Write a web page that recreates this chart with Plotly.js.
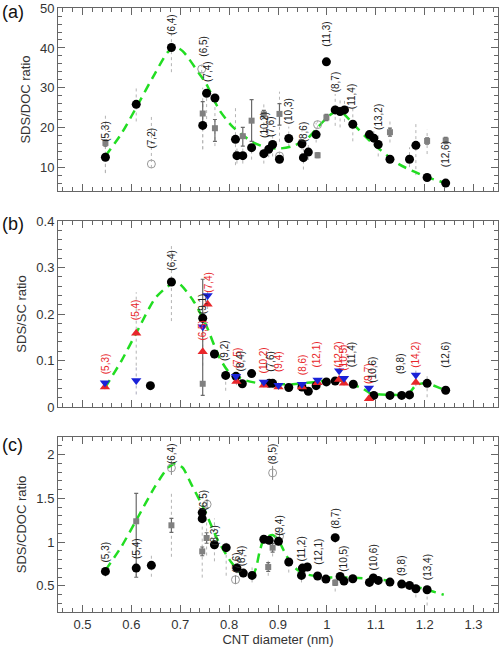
<!DOCTYPE html>
<html>
<head>
<meta charset="utf-8">
<script src="https://cdn.plot.ly/plotly-3.0.1.min.js"></script>
<style>html,body{margin:0;padding:0;background:#fff}#chart{width:501px;height:649px}</style>
</head>
<body>
<div id="chart"></div>
<script>
// ---------- Panel (a): SDS/DOC ratio ----------
const aBlackD = [0.547,0.610,0.682,0.746,0.754,0.771,0.813,0.816,0.828,0.846,0.871,0.881,0.889,0.903,0.922,0.949,0.952,0.962,0.978,0.999,1.017,1.027,1.036,1.053,1.087,1.096,1.105,1.129,1.169,1.182,1.205,1.243];
const aBlackV = [12.5,25.8,40.1,20.5,28.6,27.4,17.0,12.9,12.9,14.9,13.4,14.5,15.7,12.0,17.2,15.9,12.4,13.8,18.2,36.5,24.4,24.0,24.4,20.8,18.2,17.3,15.7,12.0,12.0,15.5,7.4,6.0];
const aBlackLo = [4,4.3,6.2,6,6.5,1.5,6.5,2,2,3,2.5,2,3,1,2,3,3,2,2,1,4,4,3,4.3,1.5,2,3,1,2,7.5,1,1];
const aBlackHi = [3,4.4,3.9,6,1,1.4,8.5,2,2,3,2,2,3,1,3,4,3,2,3,1,4,3,3,4.4,1.5,2,3,1,3,5.7,1,1];
const aSqD = [0.547,0.746,0.771,0.828,0.846,0.871,0.903,0.981,0.999,1.129,1.205,1.243];
const aSqV = [16.1,23.5,19.8,17.8,21.7,23.3,23.4,13.0,22.5,18.8,16.6,16.7];
const aSqLo = [0.8,3,3.3,2.5,5.2,1,2.8,0.6,0.8,1,0.8,0.8];
const aSqHi = [0.8,3,2.2,2.2,5.3,1,2.6,0.6,0.8,1,0.8,0.8];
const aSqDotLo = [7.5,9,4.5,0,0,4.3,7,0,0,2.6,3.3,0];
const aSqDotHi = [7.6,6.5,9,0,0,3.2,5.6,0,0,2.9,2.8,0];
const aOpenD = [0.641,0.744,0.903,0.981];
const aOpenV = [10.8,34.7,12.8,20.7];
const aOpenLo = [1,1,1,1];
const aOpenHi = [12,1,1,1];
const aFitD = [0.547,0.58,0.61,0.648,0.675,0.69,0.705,0.739,0.753,0.780,0.807,0.828,0.850,0.875,0.903,0.930,0.960,0.984,1.005,1.020,1.032,1.059,1.083,1.107,1.148,1.18,1.202,1.243];
const aFitV = [12.8,18.5,25,33.5,39,40.2,39.2,33.5,31.0,24.4,20.2,18.0,16.2,15.0,14.7,15.3,17.2,20.4,23.0,24.0,23.6,20.2,17.2,14.6,10.7,8.8,7.6,6.0];
const aLabD = [0.547,0.641,0.682,0.748,0.756,0.872,0.885,0.922,0.951,0.999,1.017,1.052,1.105,1.243];
const aLabV = [19,17.3,45.9,40.5,34.1,20.7,20.3,24.0,19.0,43.4,31.4,27.7,22.7,13.2];
const aLabT = ['(5,3)','(7,2)','(6,4)','(6,5)','(7,4)','(10,2)','(7,6)','(10,3)','(8,6)','(11,3)','(8,7)','(11,4)','(13,2)','(12,6)'];

// ---------- Panel (b): SDS/SC ratio ----------
const bBlackD = [0.639,0.682,0.746,0.770,0.793,0.814,0.827,0.846,0.882,0.889,0.922,0.949,0.962,0.978,0.999,1.017,1.054,1.096,1.129,1.153,1.169,1.205,1.243];
const bBlackV = [0.046,0.269,0.191,0.114,0.068,0.066,0.050,0.072,0.051,0.051,0.042,0.043,0.034,0.046,0.054,0.056,0.049,0.025,0.025,0.025,0.026,0.051,0.036];
const bBlackLo = [0.005,0.084,0.01,0.01,0.033,0.01,0.005,0.005,0.005,0.005,0.005,0.008,0.005,0.005,0.005,0.005,0.005,0.003,0.003,0.003,0.003,0.03,0.005];
const bBlackHi = [0.005,0.082,0.01,0.01,0.01,0.01,0.005,0.005,0.005,0.005,0.005,0.008,0.005,0.005,0.005,0.005,0.005,0.003,0.003,0.003,0.003,0.02,0.005];
const bBlueD = [0.546,0.610,0.746,0.756,0.814,0.871,0.901,0.949,0.981,1.025,1.035,1.086,1.182];
const bBlueV = [0.052,0.057,0.173,0.240,0.066,0.054,0.047,0.049,0.058,0.078,0.062,0.041,0.069];
const bBlueLo = [0.005,0.03,0.01,0.01,0.008,0.005,0.005,0.005,0.005,0.006,0.005,0.005,0.01];
const bBlueHi = [0.005,0.033,0.01,0.01,0.008,0.005,0.005,0.005,0.005,0.006,0.005,0.005,0.01];
const bRedD = [0.546,0.610,0.746,0.756,0.815,0.871,0.901,0.949,0.981,1.025,1.035,1.086,1.182];
const bRedV = [0.043,0.159,0.119,0.221,0.055,0.047,0.043,0.043,0.052,0.059,0.051,0.018,0.053];
const bRedLo = [0.005,0.07,0.03,0.01,0.008,0.005,0.005,0.005,0.005,0.005,0.005,0.005,0.008];
const bRedHi = [0.005,0.088,0.03,0.01,0.008,0.005,0.005,0.005,0.005,0.005,0.005,0.005,0.008];
const bSqD = [0.746];
const bSqV = [0.050];
const bSqLo = [0.025];
const bSqHi = [0.225];
const bFitD = [0.546,0.58,0.61,0.651,0.692,0.726,0.753,0.780,0.80,0.835,0.862,0.90,0.93,0.96,0.985,1.017,1.04,1.056,1.073,1.09,1.11,1.16,1.171,1.182,1.199,1.216,1.233,1.25];
const bFitV = [0.041,0.10,0.159,0.237,0.269,0.230,0.176,0.107,0.075,0.057,0.051,0.049,0.049,0.052,0.055,0.058,0.054,0.047,0.040,0.029,0.027,0.027,0.033,0.047,0.051,0.047,0.040,0.035];
const bLabD = [0.547,0.610,0.682,0.746,0.756,0.746,0.792,0.816,0.824,0.870,0.884,0.901,0.950,0.979,1.024,1.034,1.052,1.085,1.094,1.151,1.182,1.243];
const bLabV = [0.093,0.209,0.316,0.223,0.269,0.166,0.121,0.107,0.100,0.101,0.098,0.098,0.091,0.112,0.112,0.105,0.112,0.072,0.080,0.094,0.112,0.112];
const bLabT = ['(5,3)','(5,4)','(6,4)','(9,1)','(7,4)','(6,5)','(9,2)','(7,5)','(8,4)','(10,2)','(7,6)','(9,4)','(8,6)','(12,1)','(12,2)','(10,5)','(11,4)','(9,7)','(10,6)','(9,8)','(14,2)','(12,6)'];
const bLabRed = [1,1,0,0,1,1,0,1,0,1,0,1,1,1,1,1,0,1,0,0,1,0];

// ---------- Panel (c): SDS/CDOC ratio ----------
const cBlackD = [0.547,0.610,0.641,0.745,0.745,0.770,0.794,0.816,0.829,0.847,0.871,0.882,0.901,0.922,0.948,0.950,0.960,0.981,0.998,1.017,1.027,1.035,1.053,1.087,1.095,1.105,1.129,1.153,1.169,1.182,1.205];
const cBlackV = [0.664,0.702,0.733,1.336,1.267,0.969,0.935,0.702,0.645,0.618,1.031,1.019,1.008,0.771,0.618,0.702,0.714,0.611,0.576,1.050,0.607,0.553,0.580,0.538,0.588,0.561,0.542,0.519,0.504,0.466,0.454];
const cBlackLo = [0.06,0.1,0.13,0.05,0.05,0.19,0.32,0.06,0.05,0.08,0.05,0.05,0.05,0.12,0.08,0.05,0.05,0.04,0.04,0.06,0.04,0.04,0.04,0.04,0.05,0.04,0.05,0.04,0.04,0.1,0.18];
const cBlackHi = [0.06,0.1,0.14,0.05,0.05,0.3,0.07,0.06,0.05,0.1,0.05,0.05,0.05,0.05,0.08,0.05,0.05,0.04,0.04,0.06,0.04,0.04,0.04,0.04,0.05,0.04,0.05,0.04,0.04,0.05,0.05];
const cSqD = [0.610,0.682,0.745,0.754,0.880,0.889,1.017];
const cSqV = [1.237,1.191,0.893,1.046,0.714,0.935,0.534];
const cSqLo = [0.64,0.08,0.05,0.06,0.05,0.05,0.03];
const cSqHi = [0.32,0.08,0.05,0.06,0.05,0.05,0.03];
const cSqDotLo = [0,0.36,0.3,0.2,0.1,0.1,0.1];
const cSqDotHi = [0,0.36,0.3,0.2,0.1,0.1,0.05];
const cOpenD = [0.682,0.755,0.813,0.889,0.903];
const cOpenV = [1.847,1.431,0.569,1.79,1.065];
const cOpenLo = [0.08,0.05,0.05,0.08,0.05];
const cOpenHi = [0.08,0.05,0.05,0.08,0.05];
const cFitD = [0.547,0.58,0.61,0.648,0.675,0.690,0.705,0.722,0.750,0.777,0.804,0.824,0.840,0.848,0.855,0.862,0.870,0.880,0.890,0.900,0.912,0.926,0.940,0.955,0.988,1.056,1.124,1.171,1.205,1.239];
const cFitV = [0.676,0.95,1.248,1.63,1.85,1.897,1.85,1.668,1.363,1.019,0.771,0.645,0.605,0.615,0.70,0.88,1.02,1.065,1.078,1.03,0.90,0.76,0.68,0.635,0.600,0.592,0.561,0.504,0.454,0.397];
const cLabD = [0.547,0.610,0.682,0.747,0.770,0.814,0.826,0.889,0.903,0.949,0.981,1.017,1.035,1.095,1.153,1.205];
const cLabV = [0.885,0.924,2.01,1.477,1.076,0.771,0.847,2.01,1.19,0.924,0.885,1.267,0.809,0.828,0.733,0.714];
const cLabT = ['(5,3)','(5,4)','(6,4)','(6,5)','(8,3)','(7,6)','(8,4)','(8,5)','(9,4)','(11,2)','(12,1)','(8,7)','(10,5)','(10,6)','(9,8)','(13,4)'];

// ---------- helpers ----------
const FONT = 'Liberation Sans, Arial, sans-serif';
const GREEN = '#22dd22';
const RED = '#e8262a';
const BLUE = '#1a22d8';

function errLines(xs, ys, lo, hi, ax, color, dash) {
  const ex = [], ey = [];
  xs.forEach((x, i) => {
    if (!(lo[i] > 0 || hi[i] > 0)) return;
    ex.push(x, x, null);
    ey.push(ys[i] - lo[i], ys[i] + hi[i], null);
  });
  return {x: ex, y: ey, xaxis: ax[0], yaxis: ax[1], mode: 'lines', hoverinfo: 'skip',
    line: {color: color, width: 1, dash: dash}, showlegend: false};
}
function fit(xs, ys, ax, sm) {
  return {x: xs, y: ys, xaxis: ax[0], yaxis: ax[1], mode: 'lines', showlegend: false,
    line: {color: GREEN, width: 2.5, dash: '9px,6px', shape: 'spline', smoothing: sm}};
}
function pts(xs, ys, ax, marker, err) {
  const t = {x: xs, y: ys, xaxis: ax[0], yaxis: ax[1], mode: 'markers', marker: marker, showlegend: false};
  if (err) t.error_y = {type: 'data', symmetric: false, array: err[1], arrayminus: err[0],
    color: '#6a6a6a', thickness: 1.2, width: 2};
  return t;
}
const black = {color: '#000', size: 9, symbol: 'circle'};
const sq = {color: '#808080', size: 6, symbol: 'square'};
const openC = {color: '#9a9a9a', size: 8, symbol: 'circle-open', line: {width: 1, color: '#9a9a9a'}};
const blueT = {color: BLUE, size: 9, symbol: 'triangle-down'};
const redT = {color: RED, size: 9, symbol: 'triangle-up'};

const A = ['x3', 'y3'], B = ['x2', 'y2'], C = ['x', 'y'];
const DOT = '#b4b4b4';

const traces = [
  // panel a
  errLines(aBlackD, aBlackV, aBlackLo, aBlackHi, A, DOT, 'dot'),
  errLines(aSqD, aSqV, aSqDotLo, aSqDotHi, A, DOT, 'dot'),
  errLines(aOpenD, aOpenV, aOpenLo, aOpenHi, A, DOT, 'dot'),
  fit(aFitD, aFitV, A, 0.8),
  pts(aSqD, aSqV, A, sq, [aSqLo, aSqHi]),
  pts(aOpenD, aOpenV, A, openC),
  pts(aBlackD, aBlackV, A, black),
  // panel b
  errLines(bBlackD, bBlackV, bBlackLo, bBlackHi, B, DOT, 'dot'),
  errLines(bBlueD, bBlueV, bBlueLo, bBlueHi, B, '#aab', 'dot'),
  errLines(bRedD, bRedV, bRedLo, bRedHi, B, DOT, 'dot'),
  fit(bFitD, bFitV, B, 0.7),
  pts(bSqD, bSqV, B, sq, [bSqLo, bSqHi]),
  pts(bBlackD, bBlackV, B, black),
  pts(bRedD, bRedV, B, redT),
  pts(bBlueD, bBlueV, B, blueT),
  // panel c
  errLines(cBlackD, cBlackV, cBlackLo, cBlackHi, C, DOT, 'dot'),
  errLines(cSqD, cSqV, cSqDotLo, cSqDotHi, C, DOT, 'dot'),
  errLines(cOpenD, cOpenV, cOpenLo, cOpenHi, C, '#888', 'solid'),
  fit(cFitD, cFitV, C, 0.6),
  pts(cSqD, cSqV, C, sq, [cSqLo, cSqHi]),
  pts(cOpenD, cOpenV, C, openC),
  pts(cBlackD, cBlackV, C, black)
];

function lab(ds, vs, ts, ax, colors) {
  return ds.map((d, i) => ({
    x: d, y: vs[i], xref: ax[0], yref: ax[1], text: ts[i], showarrow: false, textangle: -90,
    font: {family: FONT, size: 10, color: colors ? (colors[i] ? RED : '#222') : '#222'},
    xanchor: 'center', yanchor: 'middle'
  }));
}

const axLine = {showline: true, linecolor: '#666', linewidth: 1, mirror: 'allticks', ticks: 'inside',
  ticklen: 7, tickcolor: '#666', tickwidth: 1, showgrid: false, zeroline: false,
  ticklabeloverflow: 'allow',
  tickfont: {family: FONT, size: 13, color: '#333'}};

const xBase = Object.assign({}, axLine, {range: [0.45, 1.35], dtick: 0.1, tick0: 0,
  minor: {ticks: 'inside', ticklen: 4, dtick: 0.02, tick0: 0, tickcolor: '#666', showgrid: false}});
const tfont = {family: FONT, size: 13, color: '#333'};

const layout = {
  width: 501, height: 649,
  margin: {l: 58, r: 3, t: 8, b: 37},
  paper_bgcolor: '#fff', plot_bgcolor: '#fff',
  font: {family: FONT, color: '#333'},
  showlegend: false,
  xaxis: Object.assign({}, xBase, {anchor: 'y', domain: [0, 1],
    title: {text: 'CNT diameter (nm)', font: tfont, standoff: 4}}),
  xaxis2: Object.assign({}, xBase, {anchor: 'y2', matches: 'x', showticklabels: false}),
  xaxis3: Object.assign({}, xBase, {anchor: 'y3', matches: 'x', showticklabels: false}),
  yaxis: Object.assign({}, axLine, {anchor: 'x', domain: [0, 0.2897], range: [0.2, 2.2], dtick: 0.5, tick0: 0,
    minor: {ticks: 'inside', ticklen: 4, dtick: 0.1, tick0: 0, tickcolor: '#666'},
    title: {text: 'SDS/CDOC ratio', font: tfont, standoff: 6}}),
  yaxis2: Object.assign({}, axLine, {anchor: 'x2', domain: [0.3394, 0.6474], range: [0, 0.4005], dtick: 0.1, tick0: 0,
    minor: {ticks: 'inside', ticklen: 4, dtick: 0.02, tick0: 0, tickcolor: '#666'},
    title: {text: 'SDS/SC ratio', font: tfont, standoff: 6}}),
  yaxis3: Object.assign({}, axLine, {anchor: 'x3', domain: [0.697, 1], range: [4, 50.05], dtick: 10, tick0: 0,
    minor: {ticks: 'inside', ticklen: 4, dtick: 2, tick0: 0, tickcolor: '#666'},
    title: {text: 'SDS/DOC ratio', font: tfont, standoff: 6}}),
  annotations: [].concat(
    lab(aLabD, aLabV, aLabT, A),
    lab(bLabD, bLabV, bLabT, B, bLabRed),
    lab(cLabD, cLabV, cLabT, C),
    [
      {text: '(a)', xref: 'paper', yref: 'paper', x: -0.132, y: 0.9934, xanchor: 'left', yanchor: 'middle', showarrow: false, font: {family: FONT, size: 18, color: '#111'}},
      {text: '(b)', xref: 'paper', yref: 'paper', x: -0.132, y: 0.6424, xanchor: 'left', yanchor: 'middle', showarrow: false, font: {family: FONT, size: 18, color: '#111'}},
      {text: '(c)', xref: 'paper', yref: 'paper', x: -0.132, y: 0.2765, xanchor: 'left', yanchor: 'middle', showarrow: false, font: {family: FONT, size: 18, color: '#111'}}
    ]
  )
};

Plotly.newPlot('chart', traces, layout, {staticPlot: true, displayModeBar: false});
</script>
</body>
</html>
